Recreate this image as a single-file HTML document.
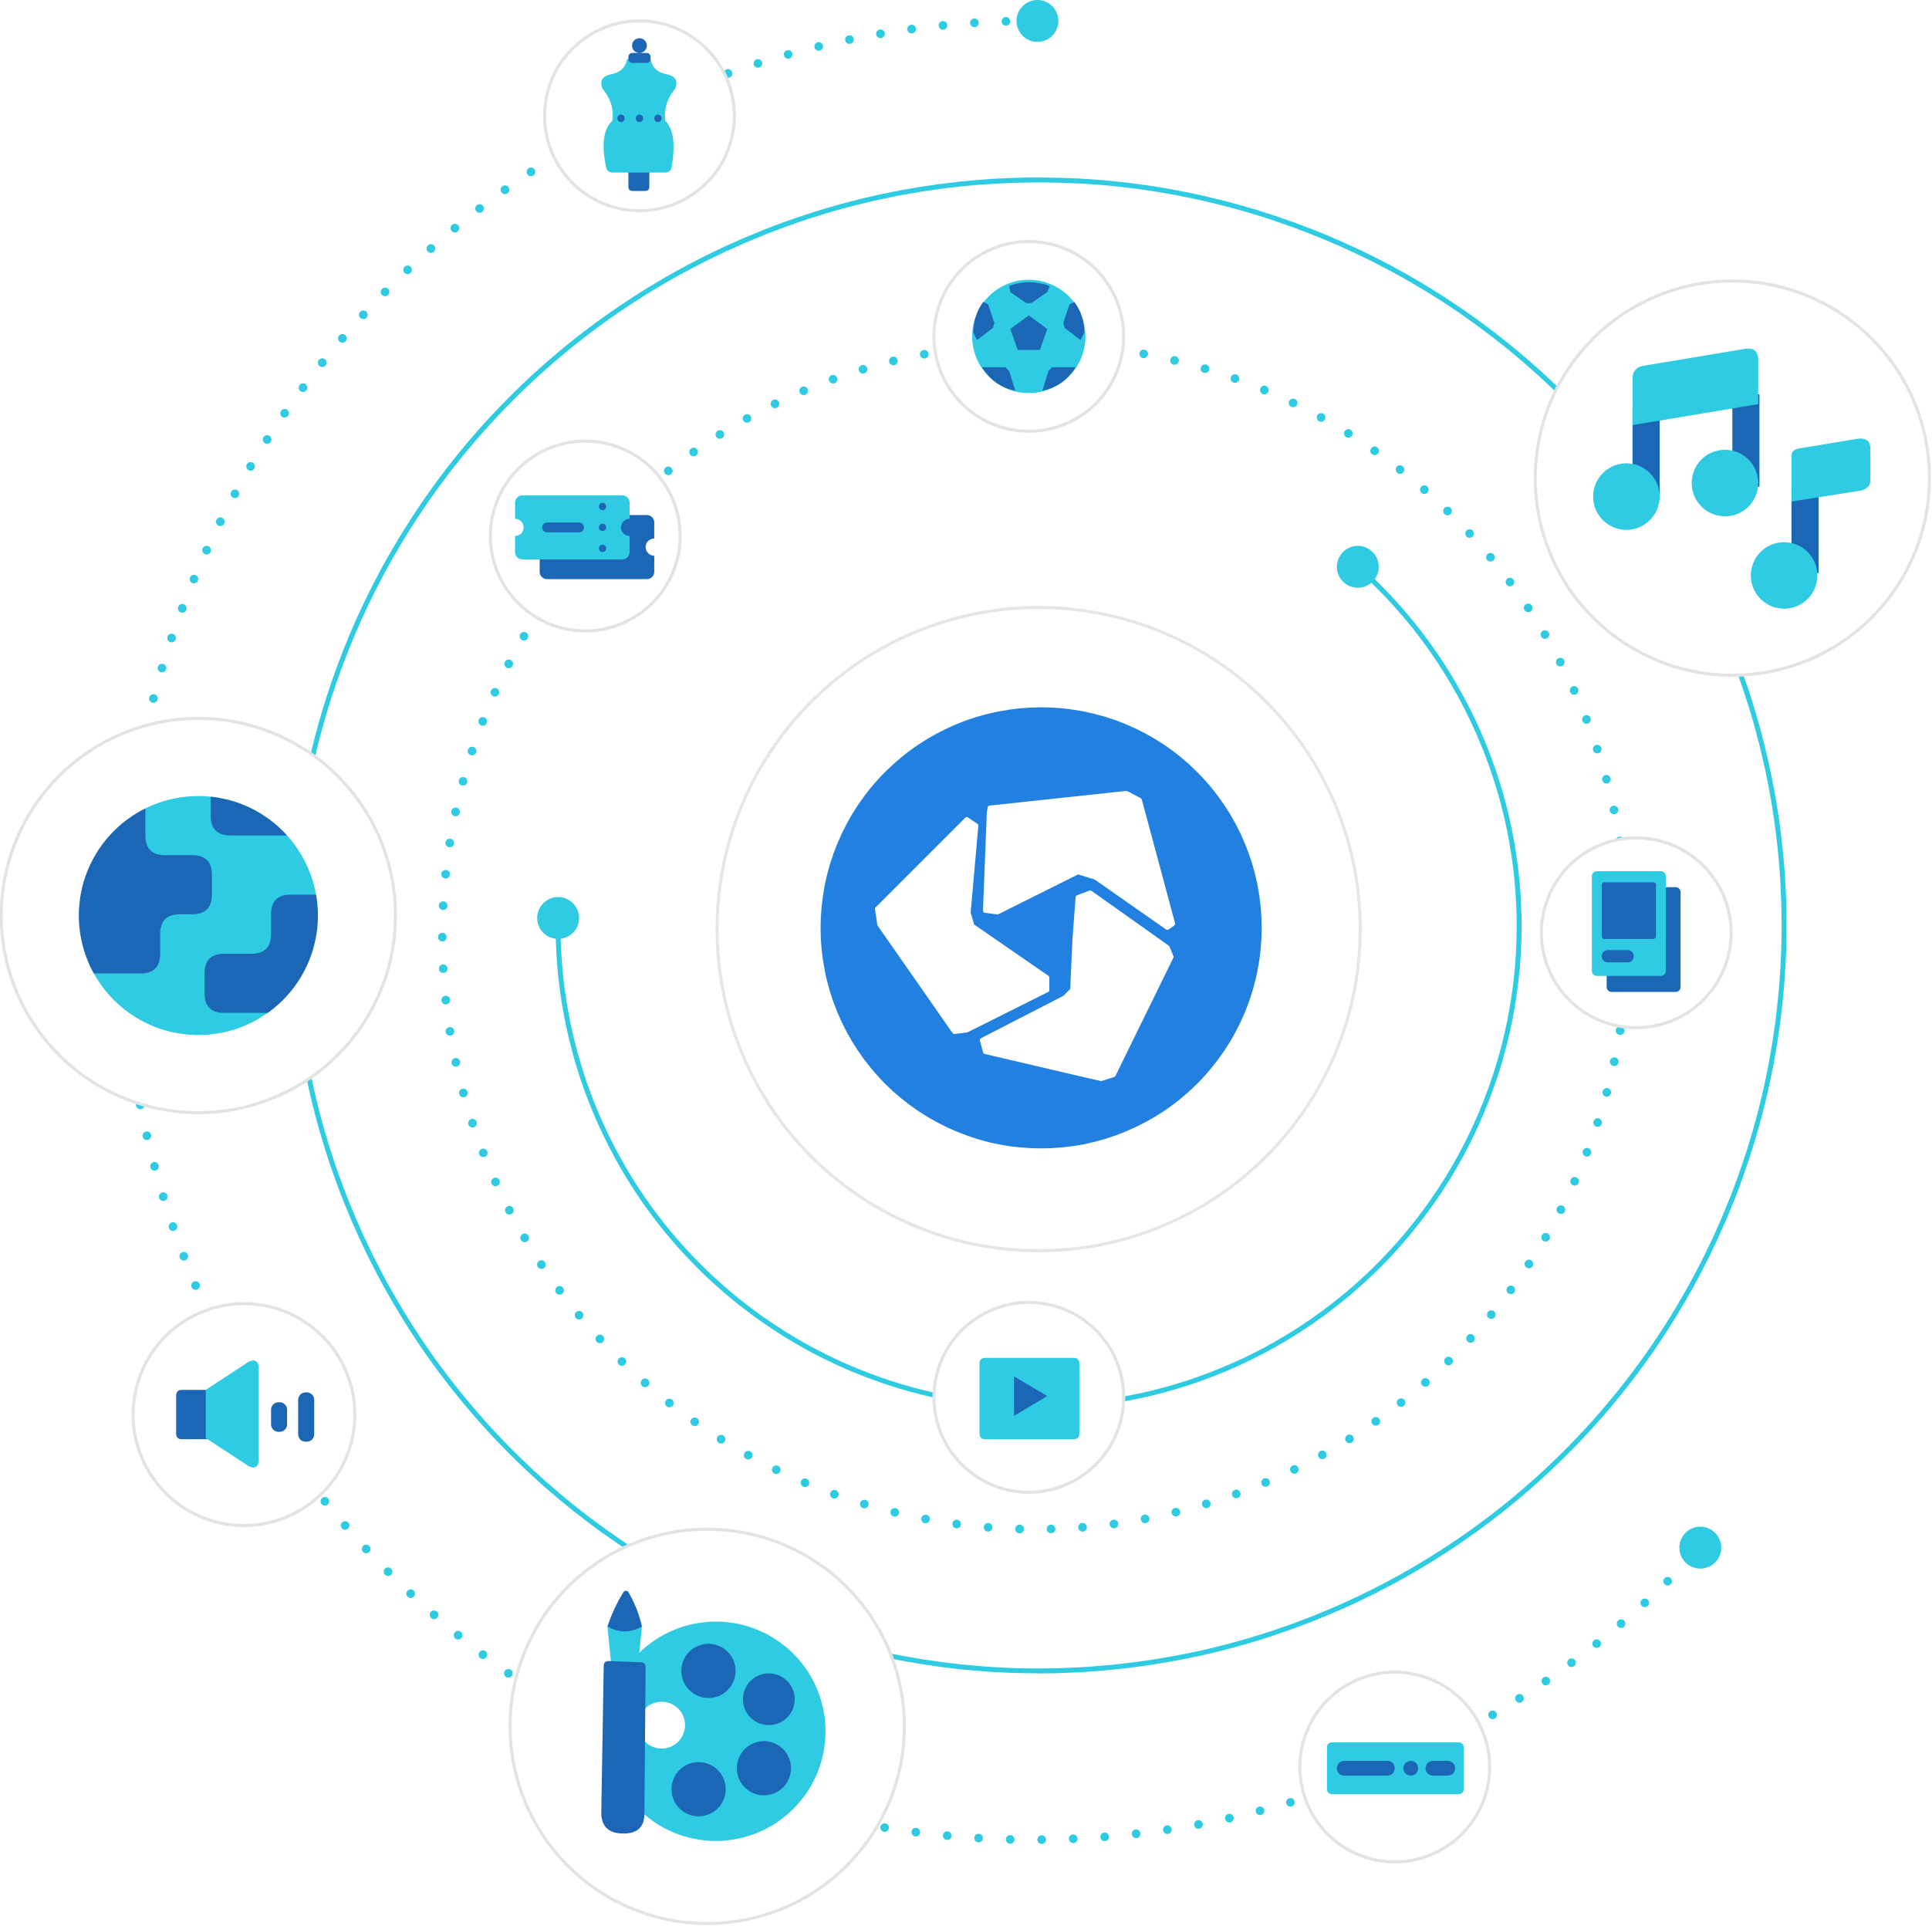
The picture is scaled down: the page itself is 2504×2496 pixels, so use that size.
<!DOCTYPE html>
<html><head><style>html,body{margin:0;padding:0;background:#fff}svg{display:block}</style></head>
<body>
<svg width="2504" height="2496" viewBox="0 0 2504 2496" xmlns="http://www.w3.org/2000/svg">
<g transform="scale(1.5969)">
<g fill="none" stroke="#2ecbe3">
<circle cx="843" cy="751" r="605" stroke-width="4"/>
<path d="M453 745 A390 390 0 1 0 1102 460" stroke-width="4"/>
<circle cx="840" cy="760" r="481" stroke-width="7" stroke-linecap="round" stroke-dasharray="0 25.6"/>
<path d="M842 17 A738 738 0 1 0 1380 1256" stroke-width="7" stroke-linecap="round" stroke-dasharray="0 25.6"/>
</g>
<g fill="#2ecbe3"><circle cx="453" cy="745" r="17"/><circle cx="1102" cy="460" r="17"/><circle cx="842" cy="17" r="17"/><circle cx="1380" cy="1256" r="17"/></g>
<circle cx="843" cy="754" r="261" fill="#fff" stroke="#e6e6e6" stroke-width="2.5"/>
<circle cx="845" cy="753" r="179" fill="#2180e0"/>
<g fill="#fff" stroke="#e3e3e3" stroke-width="2.5">
<circle cx="519" cy="94" r="77"/><circle cx="835" cy="273" r="77"/><circle cx="475" cy="435" r="77"/>
<circle cx="1406" cy="388" r="160"/><circle cx="161" cy="743" r="160"/><circle cx="1328" cy="757" r="77"/>
<circle cx="835" cy="1134" r="77"/><circle cx="198" cy="1148" r="90"/><circle cx="574" cy="1401" r="160"/>
<circle cx="1132" cy="1434" r="77"/></g>
<!-- mannequin -->
<rect x="510" y="130" width="17" height="25" rx="3" fill="#1b67b5"/>
<path d="M510 48 h18 q2 10 12 12 q12 2 8 12 q-10 12 -8 26 q10 10 5 38 q-1 4 -5 4 h-43 q-4 0 -5 -4 q-6 -28 5 -38 q2 -14 -8 -26 q-4 -10 8 -12 q10 -2 12 -12z" fill="#2ecbe3"/>
<circle cx="519" cy="37" r="6" fill="#1b67b5"/><rect x="510" y="43" width="18" height="8" rx="3" fill="#1b67b5"/>
<g fill="#1b67b5"><circle cx="504" cy="96" r="3"/><circle cx="519" cy="96" r="3"/><circle cx="534" cy="96" r="3"/></g>
<!-- soccer -->
<circle cx="835" cy="273" r="46" fill="#2ecbe3"/>
<g fill="#1b67b5"><path d="M819 232 q16 -6 33 0 l-2 5 l-13 9 h-4 l-13 -9z"/><path d="M835 256 l15 11 l-6 17 h-18 l-6 -17z"/>
<path d="M790 270 q0 -14 8 -25 l4 2 l5 15 l-1 4 l-13 10z"/><path d="M880 270 q0 -14 -8 -25 l-4 2 l-5 15 l1 4 l13 10z"/>
<path d="M797 298 h19 l3 3 l5 16 q-17 -3 -27 -19z"/><path d="M873 298 h-19 l-3 3 l-5 16 q17 -3 27 -19z"/></g>
<!-- ticket -->
<rect x="438" y="418" width="93" height="52" rx="6" fill="#1b67b5"/>
<rect x="418" y="402" width="93" height="52" rx="6" fill="#2ecbe3"/>
<circle cx="418" cy="428" r="7" fill="#fff"/><circle cx="511" cy="428" r="7" fill="#1b67b5"/><circle cx="531" cy="444" r="7" fill="#fff"/>
<rect x="440" y="424" width="34" height="8" rx="4" fill="#1b67b5"/>
<g fill="#1b67b5"><circle cx="489" cy="411" r="3"/><circle cx="489" cy="428" r="3"/><circle cx="489" cy="445" r="3"/></g>
<!-- music -->
<g fill="#1b67b5"><rect x="1325" y="330" width="22" height="75"/><rect x="1406" y="320" width="22" height="75"/><rect x="1454" y="395" width="22" height="70"/></g>
<path d="M1325 307 q0 -8 8 -10 l84 -14 q10 -1 10 9 v36 l-102 17z" fill="#2ecbe3"/>
<path d="M1454 370 q0 -5 6 -6 l48 -8 q10 -1 10 8 v26 q0 6 -7 8 l-57 9z" fill="#2ecbe3"/>
<g fill="#2ecbe3"><circle cx="1320" cy="403" r="27"/><circle cx="1400" cy="392" r="27"/><circle cx="1448" cy="467" r="27"/></g>
<!-- globe -->
<circle cx="161" cy="743" r="97" fill="#2ecbe3"/>
<clipPath id="g"><circle cx="161" cy="743" r="97"/></clipPath>
<g clip-path="url(#g)" fill="#1b67b5">
<path d="M60 640 h58 v38 q0 16 16 16 h22 q16 0 16 16 v16 q0 16 -16 16 h-10 q-16 0 -16 16 v16 q0 16 -16 16 h-60z"/>
<path d="M171 630 h90 v48 h-74 q-16 0 -16 -16z"/>
<path d="M260 726 h-24 q-16 0 -16 16 v16 q0 16 -16 16 h-22 q-16 0 -16 16 v16 q0 16 16 16 h80z"/></g>
<!-- tablet -->
<rect x="1304" y="720" width="60" height="85" rx="4" fill="#1b67b5"/>
<rect x="1292" y="707" width="60" height="85" rx="4" fill="#2ecbe3"/>
<rect x="1300" y="716" width="44" height="46" rx="2" fill="#1b67b5"/>
<rect x="1300" y="771" width="26" height="10" rx="5" fill="#1b67b5"/>
<!-- play -->
<rect x="795" y="1102" width="81" height="66" rx="4" fill="#2ecbe3"/>
<path d="M823 1117 l27 16 l-27 16z" fill="#1b67b5"/>
<!-- speaker -->
<rect x="143" y="1128" width="28" height="40" rx="4" fill="#1b67b5"/>
<path d="M167 1128 l35 -23 q7 -3 8 4 v77 q-1 7 -8 4 l-35 -23z" fill="#2ecbe3"/>
<rect x="220" y="1138" width="13" height="24" rx="6" fill="#1b67b5"/><rect x="242" y="1130" width="13" height="40" rx="6" fill="#1b67b5"/>
<!-- palette -->
<circle cx="581" cy="1405" r="89" fill="#2ecbe3"/>
<circle cx="537" cy="1400" r="19" fill="#fff"/>
<g fill="#1b67b5"><circle cx="575" cy="1356" r="22"/><circle cx="624" cy="1379" r="21"/><circle cx="620" cy="1435" r="22"/><circle cx="567" cy="1452" r="22"/></g>
<path d="M493 1320 q5 -15 13 -28 q2 -2 4 0 q8 14 11 28 l-3 30 h-22z" fill="#2ecbe3"/>
<path d="M493 1320 q5 -15 13 -28 q2 -2 4 0 q8 14 11 28 q-14 8 -28 0z" fill="#1b67b5"/>
<path d="M490 1352 q0 -4 4 -4 l26 1 q4 0 4 4 l-1 119 q0 16 -17 16 q-18 0 -18 -17z" fill="#1b67b5"/>
<!-- keyboard -->
<rect x="1077" y="1414" width="111" height="42" rx="4" fill="#2ecbe3"/>
<rect x="1085" y="1429" width="47" height="12" rx="6" fill="#1b67b5"/><circle cx="1145" cy="1435" r="6" fill="#1b67b5"/><rect x="1157" y="1429" width="24" height="12" rx="6" fill="#1b67b5"/>
</g>
<!-- logo in full coords -->
<g fill="#fff" stroke="#fff" stroke-width="6" stroke-linejoin="round">
<polygon points="1137,1178 1253,1062 1265,1070 1255,1183 1260,1200 1357,1267 1357,1283 1253,1335 1237,1337 1140,1198"/>
<polygon points="1283,1047 1460,1028 1477,1037 1520,1197 1513,1202 1420,1137 1397,1130 1293,1182 1277,1180 1282,1053"/>
<polygon points="1397,1163 1413,1157 1513,1228 1518,1240 1443,1393 1427,1398 1277,1363 1273,1348 1380,1293 1390,1283 1393,1217"/>
</g>
</svg>
</body></html>
